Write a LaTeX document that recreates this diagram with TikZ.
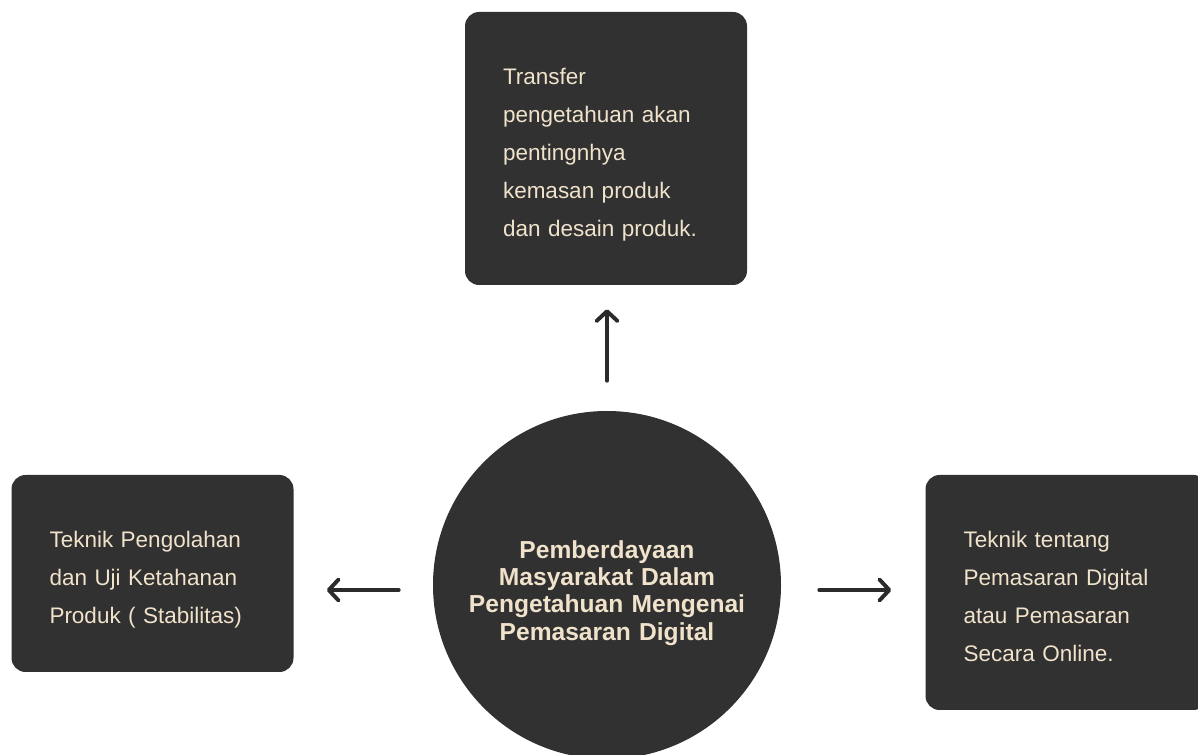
\documentclass[tikz,border=0pt]{standalone}
\usepackage{fontspec}
\setmainfont{Liberation Sans}
\usepackage{tikz}
\usetikzlibrary{arrows.meta, positioning, calc}
\definecolor{mydark}{RGB}{49,49,49}
\definecolor{mycream}{RGB}{240,226,203}
\definecolor{myarrow}{RGB}{43,43,43}
\tikzset{
  infobox/.style={rectangle, fill=mydark, text=mycream,
    text width=5.15cm, inner xsep=0.95cm, inner ysep=0pt, align=left,
    font=\fontsize{16}{27}\selectfont, rounded corners=10pt,
    execute at begin node={\rule{0pt}{#1}}},
  infobox/.default=20pt,
  hub/.style={circle, fill=mydark, text=mycream, minimum size=8.7cm,
    text width=7.2cm, align=center, inner sep=0pt,
    font=\bfseries\fontsize{17.5}{19.5}\selectfont,
    execute at begin node={\rule{0pt}{24pt}}},
  arrow/.style={-{Straight Barb[length=7pt,width=15pt,round]},
    line width=2.8pt, line cap=round, color=myarrow}
}

\begin{document}
\begin{tikzpicture}
  \clip (0,0) rectangle (29.95,18.875);

  % Centre
  \node[hub] (hub) at (15.175,4.25) {Pemberdayaan\\Masyarakat Dalam\\Pengetahuan Mengenai\\Pemasaran Digital};

  % Boxes
  \node[infobox, minimum height=6.825cm] (transfer) at (15.15,15.1625)
    {Transfer\\pengetahuan akan\\pentingnhya\\kemasan produk\\dan desain produk.};
  \node[infobox, minimum height=4.925cm] (olah) at (3.8125,4.5375)
    {Teknik Pengolahan\\dan Uji Ketahanan\\Produk ( Stabilitas)};
  \node[infobox=17.5pt, minimum height=5.875cm] (online) at (26.6625,4.0625)
    {Teknik tentang\\Pemasaran Digital\\atau Pemasaran\\Secara Online.};

  % Connections
  \draw[arrow, shorten <=0.75cm, shorten >=0.6cm] (hub.north) -- (hub.north |- transfer.south);
  \draw[arrow, shorten <=0.85cm, shorten >=0.825cm] ([yshift=-0.125cm]hub.west) -- ([yshift=-0.125cm]hub.west -| olah.east);
  \draw[arrow, shorten <=0.95cm, shorten >=0.85cm] ([yshift=-0.125cm]hub.east) -- ([yshift=-0.125cm]hub.east -| online.west);
\end{tikzpicture}
\end{document}
